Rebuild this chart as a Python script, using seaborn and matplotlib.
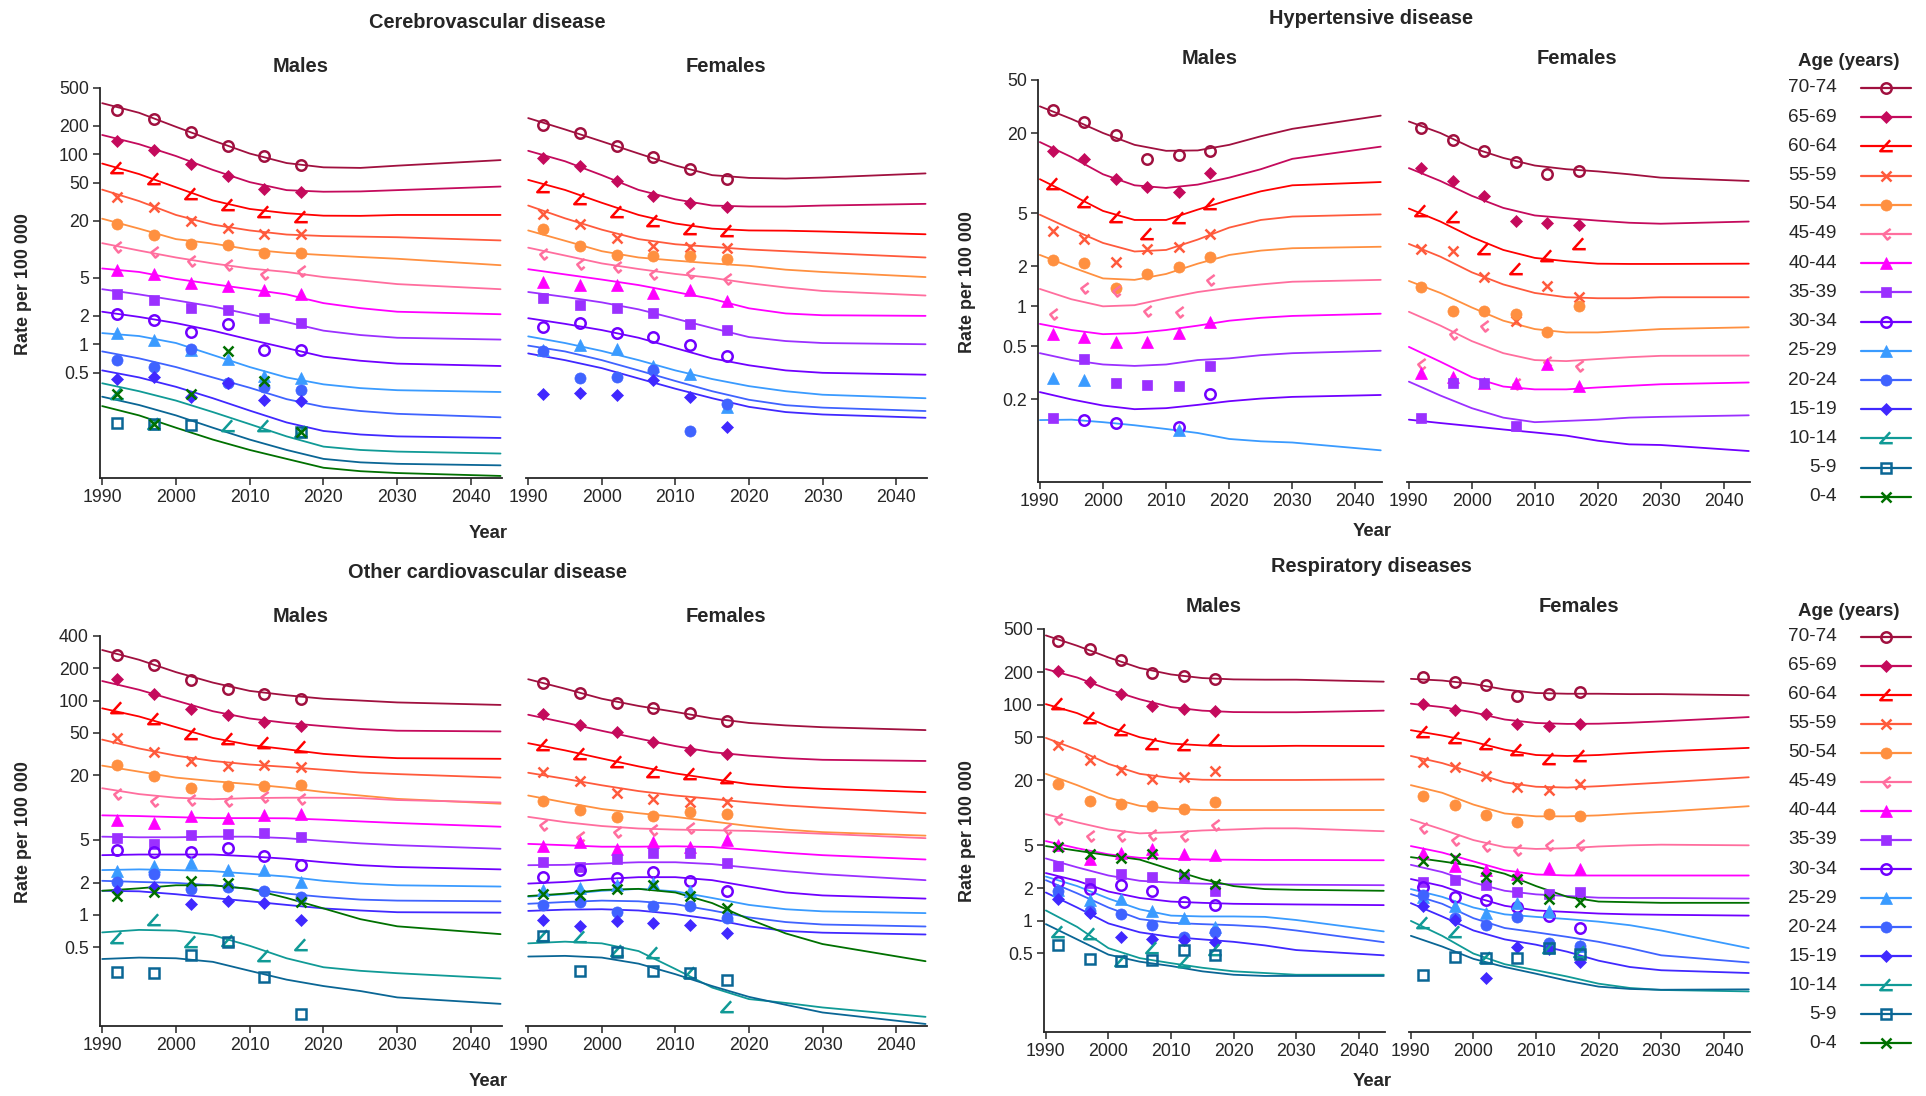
import matplotlib
matplotlib.use("Agg")
import matplotlib.pyplot as plt
from matplotlib.path import Path
from matplotlib.lines import Line2D
from matplotlib.ticker import NullLocator
import seaborn as sns

sns.set_style("ticks")
plt.rcParams["font.family"] = ["Liberation Sans", "DejaVu Sans"]

AGES = ["70-74", "65-69", "60-64", "55-59", "50-54", "45-49", "40-44", "35-39",
        "30-34", "25-29", "20-24", "15-19", "10-14", "5-9", "0-4"]
COLORS = ["#A0103F", "#C40A5C", "#FF0000", "#FF5A3C", "#FF9040", "#FF6E9E", "#FF00FF",
          "#9B30FF", "#7000FF", "#3A9BFF", "#3F63FF", "#4028FF", "#109A96", "#0A6695", "#007000"]
KNOTS = [1990, 1995, 2000, 2005, 2010, 2015, 2020, 2025, 2030, 2044]
PT_YEARS = [1992, 1997, 2002, 2007, 2012, 2017]

# ---- Cerebrovascular disease ----
CEREB_M_LINE = [
    [346, 274, 195, 140, 102, 81, 73, 72, 76, 87],
    [160, 128, 96, 68.6, 51, 42, 40.4, 40.7, 42, 45.8],
    [80, 62, 45, 32.7, 26.6, 24, 22.6, 22.5, 23, 23],
    [42.5, 32.2, 23, 18.2, 15.8, 14.3, 13.8, 13.6, 13.4, 12.4],
    [21, 16.5, 12.8, 11.5, 9.96, 9.16, 8.7, 8.3, 7.95, 6.8],
    [11.6, 9.7, 8.2, 7.1, 6.28, 5.77, 5.1, 4.7, 4.3, 3.8],
    [6.28, 5.77, 4.88, 4.3, 3.8, 3.35, 2.71, 2.4, 2.2, 2.07],
    [3.8, 3.35, 2.9, 2.5, 2.07, 1.71, 1.39, 1.25, 1.17, 1.12],
    [2.2, 1.94, 1.67, 1.39, 1.12, 0.91, 0.74, 0.67, 0.625, 0.59],
    [1.31, 1.22, 1.03, 0.77, 0.575, 0.447, 0.378, 0.345, 0.328, 0.314],
    [0.84, 0.71, 0.575, 0.447, 0.348, 0.264, 0.219, 0.198, 0.185, 0.17],
    [0.53, 0.447, 0.356, 0.27, 0.20, 0.15, 0.122, 0.112, 0.107, 0.103],
    [0.388, 0.32, 0.255, 0.193, 0.144, 0.107, 0.0835, 0.077, 0.074, 0.0706],
    [0.28, 0.229, 0.178, 0.132, 0.099, 0.077, 0.062, 0.057, 0.055, 0.053],
    [0.223, 0.178, 0.132, 0.099, 0.077, 0.062, 0.050, 0.046, 0.044, 0.041],
]
CEREB_M_PTS = [
    [293, 237, 174, 122, 96, 78],
    [139, 111, 79, 58.5, 43, 40],
    [72.7, 55.6, 38.7, 29, 24.6, 22],
    [35.6, 28.2, 20.1, 16.8, 14.5, 14.4],
    [18.4, 14.2, 11.5, 11.1, 9.2, 9.1],
    [10.6, 9.3, 7.6, 6.8, 5.5, 5.97],
    [6.0, 5.5, 4.4, 4.06, 3.73, 3.4],
    [3.4, 2.95, 2.43, 2.3, 1.9, 1.67],
    [2.06, 1.81, 1.33, 1.63, 0.86, 0.86],
    [1.31, 1.1, 0.874, 0.70, 0.466, 0.44],
    [0.68, 0.575, 0.90, 0.394, 0.353, 0.333],
    [0.43, 0.447, 0.28, 0.394, 0.26, 0.255],
    [0.30, 0.145, None, 0.138, 0.136, 0.12],
    [0.148, 0.144, 0.142, None, None, 0.12],
    [0.30, 0.146, 0.30, 0.85, 0.41, 0.12],
]
CEREB_F_LINE = [
    [241, 183, 137, 102, 76.4, 60.4, 56.5, 55.6, 57, 63],
    [109, 84.6, 60.4, 42.2, 33.6, 28.9, 28.2, 28.2, 28.9, 30.1],
    [53.8, 42.2, 30.9, 23, 18.7, 16.5, 15.8, 15.7, 15.4, 14.4],
    [28.9, 21.2, 16.1, 12.8, 11.3, 10.6, 9.96, 9.55, 9.16, 8.2],
    [15.8, 12.3, 9.55, 8.2, 7.6, 7.1, 6.7, 6.1, 5.77, 5.1],
    [10.4, 8.6, 7.1, 6.2, 5.5, 5.0, 4.4, 3.96, 3.64, 3.26],
    [6.17, 5.44, 4.8, 4.2, 3.55, 3.0, 2.39, 2.11, 2.02, 1.99],
    [3.55, 3.15, 2.76, 2.33, 1.86, 1.48, 1.19, 1.08, 1.03, 1.0],
    [1.88, 1.64, 1.41, 1.17, 0.91, 0.71, 0.60, 0.53, 0.5, 0.478],
    [1.21, 1.03, 0.85, 0.68, 0.53, 0.43, 0.362, 0.32, 0.294, 0.27],
    [0.967, 0.84, 0.68, 0.53, 0.41, 0.32, 0.26, 0.228, 0.215, 0.198],
    [0.80, 0.68, 0.56, 0.436, 0.34, 0.27, 0.219, 0.193, 0.182, 0.168],
    None, None, None,
]
CEREB_F_PTS = [
    [202, 168, 122, 94.2, 69.7, 55.6],
    [92, 74.5, 52.5, 36, 30.9, 27.7],
    [45, 33.6, 25, 20, 16.2, 15.4],
    [23.8, 18.4, 13, 10.8, 10.6, 10.4],
    [16.2, 10.9, 8.8, 8.4, 8.4, 7.95],
    [9.0, 7.0, 6.55, 5.5, 5.6, 4.9],
    [4.49, 4.2, 4.2, 3.49, 3.7, 2.88],
    [3.08, 2.58, 2.43, 2.14, 1.64, 1.41],
    [1.51, 1.67, 1.31, 1.2, 0.99, 0.746],
    [0.874, 0.99, 0.89, 0.585, 0.486, 0.219],
    [0.84, 0.44, 0.455, 0.54, 0.122, 0.234],
    [0.30, 0.31, 0.294, 0.42, 0.275, 0.134],
    None, None, None,
]

# ---- Hypertensive disease ----
HYPER_M_LINE = [
    [31.7, 25.5, 20, 16.3, 14.7, 14.8, 16.3, 18.9, 21.5, 27],
    [17.1, 13.2, 9.8, 8.1, 7.74, 8.2, 9.25, 10.7, 12.8, 15.8],
    [9.0, 6.87, 5.2, 4.45, 4.45, 5.32, 6.29, 7.3, 8.1, 8.57],
    [4.87, 3.79, 2.99, 2.58, 2.65, 3.17, 3.9, 4.45, 4.72, 4.9],
    [2.43, 1.97, 1.62, 1.58, 1.75, 2.09, 2.43, 2.62, 2.73, 2.8],
    [1.35, 1.13, 1.0, 1.02, 1.15, 1.28, 1.38, 1.46, 1.53, 1.58],
    [0.738, 0.664, 0.618, 0.629, 0.664, 0.716, 0.78, 0.82, 0.847, 0.88],
    [0.445, 0.395, 0.366, 0.357, 0.366, 0.395, 0.407, 0.43, 0.445, 0.464],
    [0.227, 0.2, 0.18, 0.169, 0.172, 0.182, 0.194, 0.203, 0.209, 0.216],
    [0.14, 0.141, 0.135, 0.128, 0.12, 0.112, 0.101, 0.097, 0.095, 0.083],
    None, None, None, None, None,
]
HYPER_M_PTS = [
    [29.7, 24, 19.2, 12.8, 13.6, 14.7],
    [14.6, 12.7, 9.0, 7.93, 7.2, 9.94],
    [8.32, 6.03, 4.67, 3.51, 4.62, 5.82],
    [3.68, 3.21, 2.15, 2.69, 2.8, 3.47],
    [2.22, 2.13, 1.38, 1.74, 1.96, 2.34],
    [0.88, 1.38, 1.3, 0.92, 0.91, 1.58],
    [0.618, 0.589, 0.539, 0.539, 0.629, 0.76],
    [0.146, 0.40, 0.268, 0.256, 0.253, 0.357],
    [None, 0.14, 0.134, None, 0.124, 0.218],
    [0.288, 0.28, None, None, 0.117, None],
    None, None, None, None, None,
]
HYPER_F_LINE = [
    [24.4, 20, 15.5, 13, 11.4, 10.7, 10.3, 9.8, 9.25, 8.73],
    [10.9, 8.73, 6.75, 5.48, 4.81, 4.59, 4.4, 4.24, 4.17, 4.33],
    [5.42, 4.33, 3.31, 2.65, 2.31, 2.18, 2.09, 2.08, 2.08, 2.09],
    [2.94, 2.36, 1.8, 1.46, 1.26, 1.17, 1.15, 1.15, 1.17, 1.17],
    [1.55, 1.26, 0.98, 0.78, 0.675, 0.637, 0.637, 0.655, 0.675, 0.696],
    [0.91, 0.717, 0.548, 0.445, 0.395, 0.388, 0.402, 0.415, 0.425, 0.427],
    [0.496, 0.384, 0.294, 0.25, 0.238, 0.238, 0.246, 0.253, 0.26, 0.268],
    [0.272, 0.214, 0.172, 0.146, 0.135, 0.138, 0.141, 0.146, 0.148, 0.152],
    [0.141, 0.133, 0.126, 0.119, 0.113, 0.107, 0.098, 0.092, 0.091, 0.082],
    None, None, None, None, None, None,
]
HYPER_F_PTS = [
    [21.9, 17.8, 14.6, 12.2, 9.77, 10.4],
    [10.9, 8.73, 6.68, 4.4, 4.22, 4.07],
    [5.2, 4.67, 2.7, 1.91, 2.4, 2.94],
    [2.7, 2.6, 1.67, 0.78, 1.42, 1.17],
    [1.4, 0.92, 0.92, 0.87, 0.637, 1.01],
    [0.366, 0.618, 0.717, 0.26, 0.384, 0.355],
    [0.315, 0.294, 0.268, 0.264, 0.368, 0.253],
    [0.146, 0.268, 0.268, 0.127, None, None],
    None, None, None, None, None, None, None,
]

# ---- Other cardiovascular disease ----
OTHER_M_LINE = [
    [296, 240, 184, 147, 123, 112, 104, 100, 96, 91],
    [152, 126, 100, 79.5, 68, 61.8, 57.7, 54.3, 52.3, 51.5],
    [84.6, 71, 56.4, 44.8, 38.5, 35.1, 31.8, 30.1, 29, 28.6],
    [43.2, 35.7, 30.6, 27.3, 25.3, 24, 22.6, 21.3, 20.6, 19.1],
    [24.7, 21.7, 19.1, 17.7, 16.6, 15.4, 14, 13, 12.1, 10.9],
    [15.2, 13.4, 12.4, 12.0, 12.3, 12.4, 12.4, 12.3, 11.8, 11.2],
    [8.49, 8.36, 8.17, 8.0, 8.0, 7.97, 7.74, 7.45, 7.2, 6.65],
    [5.37, 5.3, 5.3, 5.37, 5.37, 5.2, 4.9, 4.65, 4.47, 4.14],
    [3.61, 3.66, 3.66, 3.66, 3.52, 3.34, 3.1, 2.91, 2.8, 2.66],
    [2.62, 2.66, 2.62, 2.56, 2.42, 2.28, 2.08, 1.96, 1.89, 1.84],
    [2.08, 2.03, 1.99, 1.89, 1.75, 1.58, 1.47, 1.39, 1.36, 1.34],
    [1.68, 1.66, 1.56, 1.44, 1.34, 1.24, 1.15, 1.1, 1.06, 1.05],
    [0.687, 0.725, 0.714, 0.647, 0.515, 0.394, 0.325, 0.301, 0.286, 0.255],
    [0.388, 0.40, 0.394, 0.365, 0.301, 0.249, 0.217, 0.195, 0.17, 0.148],
    [1.68, 1.77, 1.89, 1.89, 1.75, 1.44, 1.15, 0.913, 0.783, 0.662],
]
OTHER_M_PTS = [
    [266, 213, 156, 128, 114, 104],
    [158, 116, 84, 72.6, 62.8, 58.2],
    [84.6, 66.7, 48.4, 43.8, 40, 37],
    [44.8, 33, 27.3, 24.7, 25.3, 23.8],
    [24.9, 19.7, 15.4, 16, 15.9, 16.2],
    [13.4, 11.5, 11.8, 11.5, 12.5, 12.1],
    [7.62, 7.2, 8.36, 8.05, 8.55, 8.7],
    [5.17, 4.6, 5.54, 5.7, 5.87, 5.3],
    [4.05, 3.86, 3.84, 4.17, 3.55, 2.91],
    [2.56, 2.87, 3.05, 2.6, 2.62, 2.03],
    [2.03, 2.42, 1.75, 1.81, 1.66, 1.47],
    [1.68, 1.81, 1.27, 1.34, 1.29, 0.89],
    [0.61, 0.89, 0.563, 0.577, 0.416, 0.52],
    [0.295, 0.286, 0.425, 0.563, 0.265, 0.119],
    [1.5, 1.62, 2.08, 1.99, None, 1.32],
]
OTHER_F_LINE = [
    [158, 129, 104, 89, 78.3, 68.2, 61.8, 58.6, 56.4, 53],
    [73.7, 62.3, 52.2, 44.2, 37.6, 33, 30.6, 29, 28, 27.3],
    [40, 34.3, 28.8, 24.3, 20.9, 18.6, 16.6, 15.6, 15, 14],
    [21.2, 18.6, 16.2, 14.3, 13, 12.1, 11.2, 10.5, 10, 8.89],
    [13, 11.2, 9.73, 8.89, 8.22, 7.45, 6.75, 6.25, 5.92, 5.49],
    [8.22, 7.34, 6.75, 6.4, 6.25, 6.17, 6.08, 5.9, 5.72, 5.2],
    [4.6, 4.47, 4.33, 4.33, 4.37, 4.3, 4.05, 3.8, 3.61, 3.29],
    [2.91, 2.93, 3.02, 3.1, 3.1, 2.98, 2.76, 2.56, 2.4, 2.11],
    [1.96, 2.03, 2.16, 2.25, 2.25, 2.11, 1.84, 1.62, 1.52, 1.42],
    [1.48, 1.56, 1.68, 1.75, 1.66, 1.44, 1.24, 1.13, 1.08, 1.04],
    [1.27, 1.32, 1.36, 1.34, 1.26, 1.1, 0.948, 0.858, 0.814, 0.78],
    [1.09, 1.12, 1.13, 1.1, 1.02, 0.913, 0.783, 0.709, 0.683, 0.657],
    [0.543, 0.563, 0.543, 0.46, 0.313, 0.21, 0.164, 0.151, 0.137, 0.112],
    [0.409, 0.415, 0.40, 0.351, 0.28, 0.217, 0.172, 0.145, 0.123, 0.0961],
    [1.5, 1.58, 1.71, 1.75, 1.62, 1.29, 0.913, 0.672, 0.535, 0.37],
]
OTHER_F_PTS = [
    [147, 118, 95.5, 85.9, 76.5, 64.7],
    [74.8, 59.5, 51, 40.9, 34.3, 31.8],
    [38.5, 31.8, 26.7, 21.7, 20.6, 19.1],
    [21.7, 17.8, 13.7, 12, 11.4, 11.4],
    [11.5, 9.51, 8.17, 8.36, 9.2, 8.82],
    [6.9, 5.28, 5.92, 6.17, 6.5, 6.4],
    [4.37, 4.79, 4.11, 4.83, 4.27, 5.01],
    [3.15, 2.82, 3.29, 3.78, 3.78, 3.05],
    [2.28, 2.6, 2.2, 2.52, 2.08, 1.68],
    [1.71, 1.77, 1.89, 1.99, 1.68, 1.0],
    [1.24, 1.32, 1.06, 1.21, 1.22, 0.93],
    [0.899, 0.783, 0.878, 0.833, 0.814, 0.672],
    [0.632, 0.623, 0.46, 0.442, 0.286, 0.137],
    [0.632, 0.302, 0.449, 0.302, 0.286, 0.249],
    [1.56, 1.52, 1.75, 1.89, 1.5, 1.15],
]

# ---- Respiratory diseases ----
RESP_M_LINE = [
    [436, 350, 273, 218, 190, 176, 171, 170, 170, 163],
    [213, 178, 138, 112, 94.8, 87.9, 85.3, 85, 85, 87.9],
    [101, 83.4, 62.6, 49.9, 43.6, 42, 41.3, 41.3, 41.6, 41.3],
    [49.2, 38.3, 28.3, 22.9, 21, 20.2, 20.1, 20.1, 20.1, 20.3],
    [22.9, 18, 13.8, 11.6, 10.9, 10.6, 10.6, 10.6, 10.6, 10.6],
    [9.7, 8.15, 7.01, 6.45, 6.6, 6.86, 7.01, 7.18, 7.18, 6.75],
    [5.47, 4.7, 4.13, 3.83, 3.75, 3.69, 3.68, 3.66, 3.66, 3.64],
    [3.78, 3.13, 2.63, 2.35, 2.26, 2.21, 2.18, 2.17, 2.16, 2.14],
    [2.77, 2.35, 1.87, 1.63, 1.51, 1.47, 1.44, 1.43, 1.42, 1.4],
    [2.57, 2.1, 1.61, 1.28, 1.12, 1.1, 1.1, 1.09, 1.02, 0.80],
    [2.38, 1.8, 1.33, 1.04, 0.96, 0.934, 0.913, 0.88, 0.816, 0.636],
    [1.83, 1.33, 0.948, 0.785, 0.712, 0.675, 0.641, 0.594, 0.538, 0.481],
    [1.25, 0.88, 0.56, 0.453, 0.407, 0.369, 0.342, 0.33, 0.318, 0.318],
    [0.934, 0.675, 0.488, 0.42, 0.383, 0.342, 0.318, 0.31, 0.31, 0.31],
    [4.92, 4.46, 4.04, 3.69, 2.99, 2.44, 2.1, 1.97, 1.94, 1.9],
]
RESP_M_PTS = [
    [389, 327, 257, 196, 183, 173],
    [206, 163, 124, 97.8, 92, 86.6],
    [101, 75.6, 58, 42.9, 42.3, 47],
    [42.3, 31, 25.1, 20.5, 21.3, 24.4],
    [18.6, 12.8, 12.1, 11.6, 10.8, 12.7],
    [8.67, 6.12, 6.12, 6.26, 6.12, 7.68],
    [5.07, 3.75, 4.23, 4.63, 4.13, 4.07],
    [3.22, 2.26, 2.69, 2.57, 2.57, 1.91],
    [2.31, 1.97, 2.14, 1.9, 1.49, 1.41],
    [1.94, 1.55, 1.58, 1.24, 1.06, 0.88],
    [1.91, 1.24, 1.17, 0.913, 0.712, 0.797],
    [1.58, 1.19, 0.712, 0.675, 0.66, 0.641],
    [0.785, 0.756, 0.429, 0.567, 0.414, 0.538],
    [0.603, 0.44, 0.429, 0.436, 0.538, 0.488],
    [4.81, 4.2, 3.83, 4.13, 2.73, 2.18],
]
RESP_F_LINE = [
    [173, 167, 155, 138, 128, 126, 126, 125, 125, 122],
    [102, 94.8, 84.7, 72.8, 67.6, 66.3, 66.6, 68, 70, 76.7],
    [58, 51.8, 45.3, 38.3, 34.2, 33.5, 34.2, 35.6, 36.9, 39.8],
    [33.5, 28.8, 23.5, 19.1, 17.4, 17.1, 17.6, 18.3, 19, 21.3],
    [18, 15.3, 11.9, 9.85, 9.27, 9.27, 9.46, 9.85, 10.2, 11.5],
    [8.67, 7.01, 5.59, 4.81, 4.63, 4.7, 4.88, 5.0, 5.07, 5.0],
    [4.92, 4.29, 3.55, 2.94, 2.69, 2.63, 2.63, 2.63, 2.63, 2.63],
    [3.3, 2.83, 2.26, 1.9, 1.76, 1.7, 1.64, 1.63, 1.63, 1.61],
    [2.44, 2.1, 1.67, 1.38, 1.25, 1.21, 1.17, 1.15, 1.14, 1.12],
    [1.97, 1.67, 1.33, 1.15, 1.09, 1.04, 0.985, 0.913, 0.816, 0.56],
    [1.77, 1.44, 1.06, 0.86, 0.785, 0.712, 0.641, 0.56, 0.481, 0.413],
    [1.46, 1.1, 0.816, 0.675, 0.603, 0.519, 0.429, 0.375, 0.35, 0.33],
    [1.0, 0.728, 0.499, 0.398, 0.35, 0.306, 0.263, 0.24, 0.23, 0.223],
    [0.728, 0.58, 0.446, 0.375, 0.325, 0.28, 0.247, 0.235, 0.231, 0.233],
    [3.89, 3.55, 3.22, 2.73, 2.1, 1.67, 1.51, 1.49, 1.47, 1.47],
]
RESP_F_PTS = [
    [180, 163, 151, 121, 126, 130],
    [102, 90, 81.5, 65.5, 63.1, 66.3],
    [56, 48.8, 42.9, 37.8, 31.7, 33.7],
    [29.4, 26.7, 21.8, 17.4, 16.3, 18.6],
    [14.4, 11.7, 9.63, 8.28, 9.67, 9.4],
    [7.17, 5.59, 4.92, 4.53, 5.07, 5.07],
    [4.29, 3.22, 2.94, 2.69, 3.06, 3.04],
    [2.31, 2.38, 2.14, 1.87, 1.76, 1.87],
    [2.05, 1.67, 1.57, 1.35, 1.12, 0.86],
    [1.67, 1.38, 1.19, 1.47, 1.24, 0.59],
    [1.74, 1.06, 0.913, 1.09, 0.626, 0.59],
    [1.36, 1.02, 0.294, 0.572, 0.551, 0.413],
    [0.963, 0.785, 0.453, None, 0.56, 0.519],
    [0.318, 0.463, 0.453, 0.453, 0.56, 0.499],
    [3.61, 3.83, 2.53, 2.44, 1.61, 1.51],
]

# custom line-art markers
ANGLE = Path([(0.35, 0.6), (-0.6, -0.45), (0.6, -0.45)],
             [Path.MOVETO, Path.LINETO, Path.LINETO])
HOOK = Path([(0.45, 0.6), (-0.35, 0.0), (0.1, -0.55), (0.45, -0.25)],
            [Path.MOVETO, Path.LINETO, Path.LINETO, Path.LINETO])
MARKERS = [("o", 7.5, False), ("D", 6.5, True), (ANGLE, 9, False), ("x", 7, False),
           ("o", 8, True), (HOOK, 8, False), ("^", 8.5, True), ("s", 6.5, True),
           ("o", 7.5, False), ("^", 8.5, True), ("o", 8, True), ("D", 6.5, True),
           (ANGLE, 9, False), ("s", 7, False), ("x", 6.5, False)]


def marker_kw(i):
    m, s, filled = MARKERS[i]
    c = COLORS[i]
    kw = dict(marker=m, markersize=s, markeredgecolor=c)
    if filled:
        kw.update(markerfacecolor=c, markeredgewidth=0.5)
    else:
        kw.update(markerfacecolor="none", markeredgewidth=1.8)
    return kw


W, H = 1926, 1096
fig = plt.figure(figsize=(W / 100, H / 100), dpi=100)


def px_axes(left, top, right, bottom):
    return fig.add_axes([left / W, 1 - bottom / H, (right - left) / W, (bottom - top) / H])


def ftext(x, y, s, **kw):
    fig.text(x / W, 1 - y / H, s, ha=kw.pop("ha", "center"), va="center", **kw)


def draw(ax, lines, pts):
    for i, row in enumerate(lines):
        if row is None:
            continue
        sns.lineplot(x=KNOTS, y=row, color=COLORS[i], lw=1.3, ax=ax, legend=False)
    for i, row in enumerate(pts):
        if row is None:
            continue
        yrs = [yr for yr, v in zip(PT_YEARS, row) if v is not None]
        vals = [v for v in row if v is not None]
        sns.lineplot(x=yrs, y=vals, color=COLORS[i], linestyle="", ax=ax,
                     legend=False, **marker_kw(i))


PANELS = [
    dict(title="Cerebrovascular disease", tx=487, ty=22, top=88, bottom=478,
         m=(100, 502), f=(526, 927), ylim=(0.039, 500),
         yt=[0.5, 1, 2, 5, 20, 50, 100, 200, 500], ly=67, mx=301, fx=726,
         yl=(23, 284), yr=(488, 533),
         data=(CEREB_M_LINE, CEREB_M_PTS, CEREB_F_LINE, CEREB_F_PTS)),
    dict(title="Hypertensive disease", tx=1371, ty=18, top=80, bottom=482,
         m=(1038, 1382), f=(1407, 1750), ylim=(0.048, 50),
         yt=[0.2, 0.5, 1, 2, 5, 20, 50], ly=59, mx=1210, fx=1577,
         yl=(967, 282), yr=(1372, 532),
         data=(HYPER_M_LINE, HYPER_M_PTS, HYPER_F_LINE, HYPER_F_PTS)),
    dict(title="Other cardiovascular disease", tx=487, ty=572, top=636, bottom=1026,
         m=(100, 502), f=(526, 927), ylim=(0.092, 400),
         yt=[0.5, 1, 2, 5, 20, 50, 100, 200, 400], ly=616, mx=301, fx=726,
         yl=(23, 832), yr=(488, 1082),
         data=(OTHER_M_LINE, OTHER_M_PTS, OTHER_F_LINE, OTHER_F_PTS)),
    dict(title="Respiratory diseases", tx=1371, ty=567, top=629, bottom=1032,
         m=(1044, 1385), f=(1409, 1750), ylim=(0.094, 500),
         yt=[0.5, 1, 2, 5, 20, 50, 100, 200, 500], ly=607, mx=1214, fx=1579,
         yl=(967, 831), yr=(1372, 1082),
         data=(RESP_M_LINE, RESP_M_PTS, RESP_F_LINE, RESP_F_PTS)),
]

for p in PANELS:
    m_line, m_pts, f_line, f_pts = p["data"]
    for side, (x0, x1), lines, pts in (("m", p["m"], m_line, m_pts),
                                       ("f", p["f"], f_line, f_pts)):
        ax = px_axes(x0, p["top"], x1, p["bottom"])
        ax.set_yscale("log")
        draw(ax, lines, pts)
        ax.set_xlim(1989.7, 2044.2)
        ax.set_ylim(*p["ylim"])
        ax.set_xticks(range(1990, 2041, 10))
        ax.yaxis.set_minor_locator(NullLocator())
        ax.set_xlabel("")
        ax.set_ylabel("")
        ax.tick_params(axis="both", labelsize=12.8, length=5, width=1.1, pad=3,
                       direction="out")
        for sp in ax.spines.values():
            sp.set_linewidth(1.3)
        if side == "m":
            ax.set_yticks(p["yt"])
            ax.set_yticklabels([f"{v:g}" for v in p["yt"]])
            sns.despine(ax=ax)
        else:
            ax.set_yticks([])
            sns.despine(ax=ax, left=True)
    ftext(p["tx"], p["ty"], p["title"], fontsize=14.4, fontweight="bold")
    ftext(p["mx"], p["ly"], "Males", fontsize=14.5, fontweight="bold")
    ftext(p["fx"], p["ly"], "Females", fontsize=14.5, fontweight="bold")
    ftext(p["yl"][0], p["yl"][1], "Rate per 100 000", fontsize=12.9,
          fontweight="bold", rotation=90)
    ftext(p["yr"][0], p["yr"][1], "Year", fontsize=13.3, fontweight="bold")


def age_legend(title_y, first_y, step):
    ftext(1849, title_y, "Age (years)", fontsize=13.5, fontweight="bold")
    for i, age in enumerate(AGES):
        y = first_y + i * step
        ftext(1837, y, age, fontsize=13.7, ha="right")
        yy = 1 - y / H
        handle = Line2D([1861 / W, 1886 / W, 1911 / W], [yy, yy, yy],
                        transform=fig.transFigure, color=COLORS[i], lw=1.6,
                        markevery=[1], **marker_kw(i))
        fig.add_artist(handle)


age_legend(61, 88, 29.2)
age_legend(611, 636.5, 29.07)

fig.savefig("out.png", dpi=100)
